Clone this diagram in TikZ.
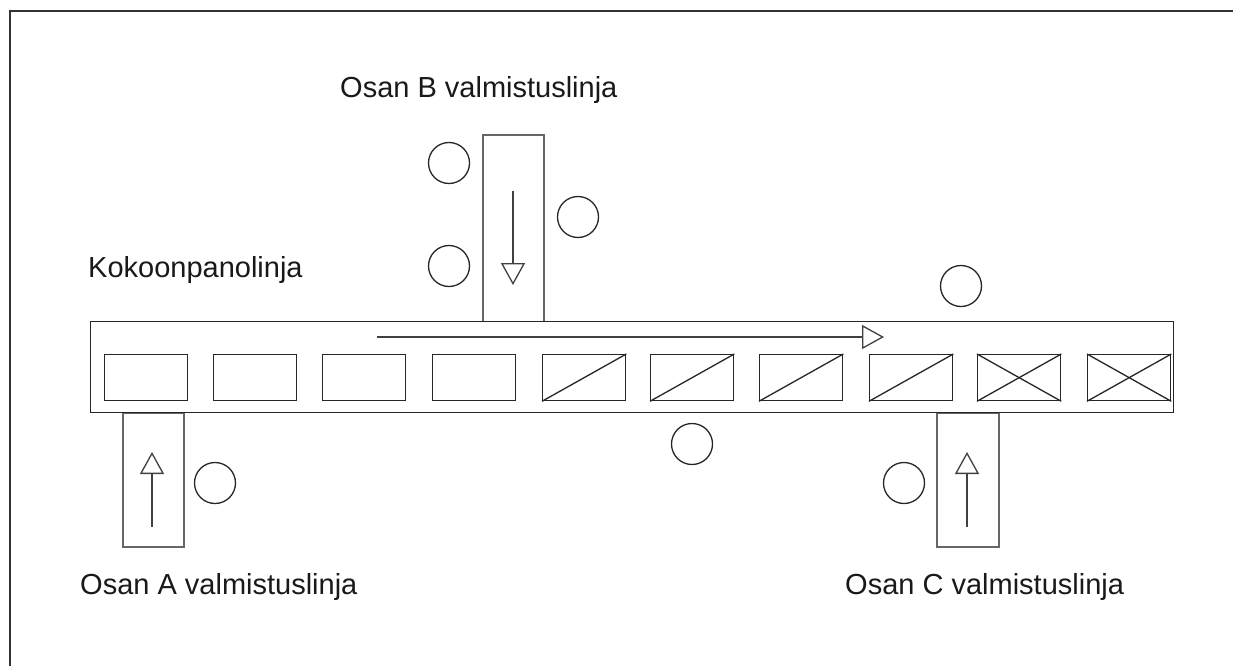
\documentclass[tikz,border=0pt]{standalone}
\usepackage{fontspec}
\setmainfont{Liberation Sans}
\usetikzlibrary{arrows.meta}
\begin{document}
\begin{tikzpicture}[x=1pt,y=-1pt,
  ln/.style={draw=black!85, line width=1.3pt},
  slot/.style={ln, minimum width=83pt, minimum height=46pt, inner sep=0pt, anchor=north west},
  station/.style={ln, circle, minimum size=41pt, inner sep=0pt},
  feeder/.style={draw=black!60, line width=1.6pt, inner sep=0pt, anchor=north west},
  flow/.style={draw=black!75, line width=1.3pt, -{Triangle[open, length=22pt, width=24pt, line width=1.3pt]}},
  lbl/.style={font=\fontsize{29}{32}\selectfont, inner sep=0pt, anchor=base west, text=black!90}]
\useasboundingbox (0,0) rectangle (1233,666);
% frame
\coordinate (f1) at (10,666);
\coordinate (f2) at (10,11);
\coordinate (f3) at (1233,11);
\draw[draw=black!80, line width=1.5pt] (f1) -- (f2) -- (f3);
% feeders
\node[feeder, minimum width=61pt, minimum height=187pt] (feedB) at (482,134) {};
\node[feeder, minimum width=61pt, minimum height=134pt] (feedA) at (122,412) {};
\node[feeder, minimum width=62pt, minimum height=134pt] (feedC) at (936,412) {};
% main line
\node[ln, fill=white, minimum width=1083pt, minimum height=91pt, inner sep=0pt, anchor=north west] (main) at (90,321) {};
% slots
\foreach \i/\x in {1/104,2/213,3/322,4/432,5/542,6/650,7/759,8/869,9/977,10/1087}{
  \node[slot] (s\i) at (\x,354) {};
}
\foreach \i in {5,6,7,8,9,10}{
  \draw[ln] (s\i.south west) -- (s\i.north east);
}
\foreach \i in {9,10}{
  \draw[ln] (s\i.north west) -- (s\i.south east);
}
% flow arrows
\coordinate (m1) at (377,337);
\coordinate (m2) at (884,337);
\draw[flow] (m1) -- (m2);
\coordinate (b1) at (513,191);
\coordinate (b2) at (513,285);
\draw[flow] (b1) -- (b2);
\coordinate (a1) at (152,527);
\coordinate (a2) at (152,452);
\draw[flow] (a1) -- (a2);
\coordinate (c1) at (967,527);
\coordinate (c2) at (967,452);
\draw[flow] (c1) -- (c2);
% stations
\node[station] (o1) at (449,163) {};
\node[station] (o2) at (449,266) {};
\node[station] (o3) at (578,217) {};
\node[station] (o4) at (961,286) {};
\node[station] (o5) at (692,444) {};
\node[station] (o6) at (215,483) {};
\node[station] (o7) at (904,483) {};
% labels
\node[lbl] (tB) at (340,98) {Osan B valmistuslinja};
\node[lbl] (tK) at (88,277) {Kokoonpanolinja};
\node[lbl] (tA) at (80,594) {Osan A valmistuslinja};
\node[lbl] (tC) at (845,594) {Osan C valmistuslinja};
\end{tikzpicture}
\end{document}
